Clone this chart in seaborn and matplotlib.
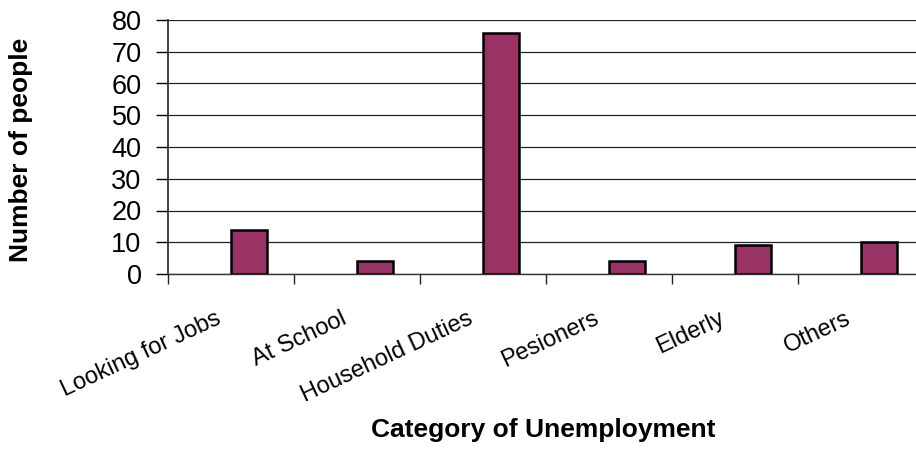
import matplotlib
matplotlib.use("Agg")
import matplotlib.pyplot as plt
from matplotlib.transforms import ScaledTranslation
import seaborn as sns
import pandas as pd
import numpy as np

categories = ["Looking for Jobs", "At School", "Household Duties", "Pesioners", "Elderly", "Others"]
values = [14, 4, 76, 4, 9, 10]
series_names = ["(blank)", "Number of people"]
y_ticks = [0, 10, 20, 30, 40, 50, 60, 70, 80]

sns.set_theme(style="white")
plt.rcParams['font.family'] = ['Liberation Sans', 'DejaVu Sans']
plt.rcParams['text.color'] = 'black'
plt.rcParams['axes.labelcolor'] = 'black'
plt.rcParams['xtick.color'] = 'black'
plt.rcParams['ytick.color'] = 'black'

# Excel-like clustered layout: an empty first series and the real series second
df = pd.DataFrame({
    "category": categories * 2,
    "series": [series_names[0]] * len(categories) + [series_names[1]] * len(categories),
    "value": [np.nan] * len(categories) + values,
})

fig = plt.figure(figsize=(9.16, 4.51), dpi=100)
ax = fig.add_axes([168/916, 1 - 274/451, 756/916, 254/451])

sns.barplot(data=df, x="category", y="value", hue="series", order=categories,
            hue_order=series_names, palette=["#993366", "#993366"], width=0.572,
            edgecolor="black", linewidth=1.8, saturation=1, legend=False, ax=ax,
            errorbar=None, zorder=3)

ax.set_xlim(-0.5, len(categories) - 0.5)
ax.set_ylim(0, 80)
ax.set_yticks(y_ticks)
ax.set_yticklabels([str(v) for v in y_ticks], fontsize=19.5)
ax.grid(axis="y", color="#222222", linewidth=0.9, zorder=0)
ax.set_axisbelow(True)

# category boundaries as major ticks, labels at centres via minor ticks
ax.set_xticks(np.arange(-0.5, len(categories) + 0.5, 1.0))
ax.set_xticklabels([""] * (len(categories) + 1))
ax.set_xticks(np.arange(len(categories)), minor=True)
ax.set_xticklabels(categories, minor=True, fontsize=17, rotation=25,
                   ha="right", va="baseline", rotation_mode="anchor")
ax.tick_params(axis="x", which="major", direction="out", length=7, width=1,
               color="#222222", bottom=True)
ax.tick_params(axis="x", which="minor", length=0, pad=49 * 0.72)
ax.tick_params(axis="y", direction="out", length=9, width=1, color="black",
               left=True, pad=14 * 0.72)
shift = ScaledTranslation(-9 / 100, 0, fig.dpi_scale_trans)
for lab in ax.get_xticklabels(minor=True):
    lab.set_transform(lab.get_transform() + shift)

for s in ["top", "right"]:
    ax.spines[s].set_visible(False)
ax.spines["left"].set_color("#333333")
ax.spines["left"].set_linewidth(1.3)
ax.spines["bottom"].set_color("#333333")
ax.spines["bottom"].set_linewidth(1.0)

ax.set_xlabel("Category of Unemployment", fontsize=19, fontweight="bold")
ax.set_ylabel("Number of people", fontsize=19, fontweight="bold")
ax.xaxis.set_label_coords((543 - 168) / 756, (274 - 418) / 254)
ax.yaxis.set_label_coords((33 - 168) / 756, 0.488)

fig.savefig("out.png", dpi=100)
